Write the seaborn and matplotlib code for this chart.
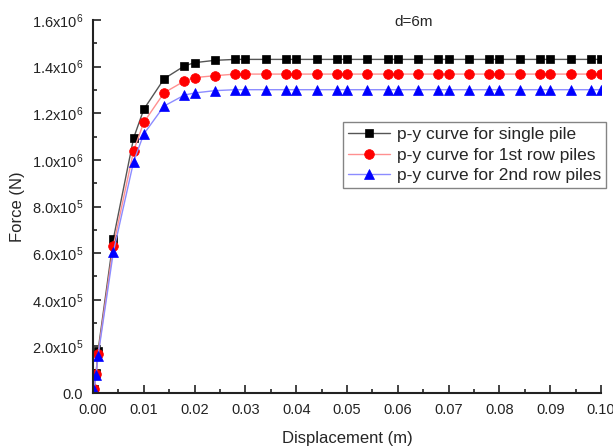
import numpy as np
import pandas as pd
import matplotlib
matplotlib.use("Agg")
import matplotlib.pyplot as plt
import seaborn as sns
from matplotlib.ticker import MultipleLocator

# data
disp = [0.0002, 0.0006, 0.001, 0.004, 0.008, 0.010, 0.014, 0.018, 0.020, 0.024,
        0.028, 0.030, 0.034, 0.038, 0.040, 0.044, 0.048, 0.050, 0.054, 0.058,
        0.060, 0.064, 0.068, 0.070, 0.074, 0.078, 0.080, 0.084, 0.088, 0.090,
        0.094, 0.098, 0.100]
single = [0.018e6, 0.085e6, 0.182e6, 0.660e6, 1.094e6, 1.217e6, 1.348e6, 1.403e6, 1.417e6, 1.427e6,
          1.431e6, 1.431e6, 1.431e6, 1.431e6, 1.431e6, 1.431e6, 1.431e6, 1.431e6, 1.431e6, 1.431e6,
          1.431e6, 1.431e6, 1.431e6, 1.431e6, 1.431e6, 1.431e6, 1.431e6, 1.431e6, 1.431e6, 1.431e6,
          1.431e6, 1.431e6, 1.431e6]
row1 = [0.016e6, 0.080e6, 0.168e6, 0.631e6, 1.040e6, 1.161e6, 1.288e6, 1.338e6, 1.353e6, 1.361e6,
        1.368e6, 1.368e6, 1.368e6, 1.368e6, 1.368e6, 1.368e6, 1.368e6, 1.368e6, 1.368e6, 1.368e6,
        1.368e6, 1.368e6, 1.368e6, 1.368e6, 1.368e6, 1.368e6, 1.368e6, 1.368e6, 1.368e6, 1.368e6,
        1.368e6, 1.368e6, 1.368e6]
row2 = [0.014e6, 0.076e6, 0.160e6, 0.604e6, 0.993e6, 1.111e6, 1.231e6, 1.278e6, 1.287e6, 1.297e6,
        1.301e6, 1.301e6, 1.301e6, 1.301e6, 1.301e6, 1.301e6, 1.301e6, 1.301e6, 1.301e6, 1.301e6,
        1.301e6, 1.301e6, 1.301e6, 1.301e6, 1.301e6, 1.301e6, 1.301e6, 1.301e6, 1.301e6, 1.301e6,
        1.301e6, 1.301e6, 1.301e6]
labels = ["p-y curve for single pile", "p-y curve for 1st row piles", "p-y curve for 2nd row piles"]
yticks = [0, 2e5, 4e5, 6e5, 8e5, 1.0e6, 1.2e6, 1.4e6, 1.6e6]
ytick_labels = ["0.0", "2.0x10^5", "4.0x10^5", "6.0x10^5", "8.0x10^5",
                "1.0x10^6", "1.2x10^6", "1.4x10^6", "1.6x10^6"]
xticks = [0.00, 0.01, 0.02, 0.03, 0.04, 0.05, 0.06, 0.07, 0.08, 0.09, 0.10]

sns.set_style("ticks")
plt.rcParams["font.family"] = ["Liberation Sans", "DejaVu Sans"]
plt.rcParams["mathtext.fontset"] = "custom"
plt.rcParams["mathtext.rm"] = "Liberation Sans"

fig = plt.figure(figsize=(6.13, 4.48), dpi=100)
ax = fig.add_axes([93 / 613, 55 / 448, 508 / 613, 373 / 448])

styles = [
    dict(line="#555555", face="black", marker="s", ms=6),
    dict(line="#ff9090", face="red", marker="o", ms=7),
    dict(line="#8c8cff", face="blue", marker="^", ms=7.5),
]
for vals, lab, st in zip([single, row1, row2], labels, styles):
    df = pd.DataFrame({"disp": disp, "force": vals})
    sns.lineplot(data=df, x="disp", y="force", ax=ax, label=lab, errorbar=None,
                 color=st["line"], linewidth=1.0, marker=st["marker"],
                 markersize=st["ms"], markerfacecolor=st["face"],
                 markeredgecolor=st["face"], markeredgewidth=0.5)

ax.set_xlim(0, 0.1)
ax.set_ylim(0, 1.6e6)
ax.set_xticks(xticks)
ax.set_xticklabels([f"{v:.2f}" for v in xticks])
ax.set_yticks(yticks)
ax.set_yticklabels([r"$\mathregular{" + t + "}$" if "^" in t else t for t in ytick_labels])
ax.xaxis.set_minor_locator(MultipleLocator(0.005))
ax.yaxis.set_minor_locator(MultipleLocator(1e5))
ax.tick_params(which="both", direction="in", width=1.2, labelsize=10.5, colors="#222222")
ax.tick_params(which="major", length=6, pad=7)
ax.tick_params(which="minor", length=3)
for s in ["top", "right"]:
    ax.spines[s].set_visible(False)
for s in ["left", "bottom"]:
    ax.spines[s].set_linewidth(1.5)
    ax.spines[s].set_color("#222222")

ax.set_xlabel("Displacement (m)", fontsize=12, labelpad=10)
ax.set_ylabel("Force (N)", fontsize=12, labelpad=5)
ax.text(0.632, 0.995, "d=6m", transform=ax.transAxes, ha="center", va="center", fontsize=11)

leg = ax.legend(loc="upper left", bbox_to_anchor=(250 / 508, (393 - 122) / 373),
                frameon=True, fancybox=False, fontsize=12.5, borderpad=0.3,
                handlelength=2.4, handletextpad=0.4, labelspacing=0.3,
                borderaxespad=0)
leg.get_frame().set_edgecolor("#666666")
leg.get_frame().set_linewidth(1.0)

fig.savefig("out.png", dpi=100)
